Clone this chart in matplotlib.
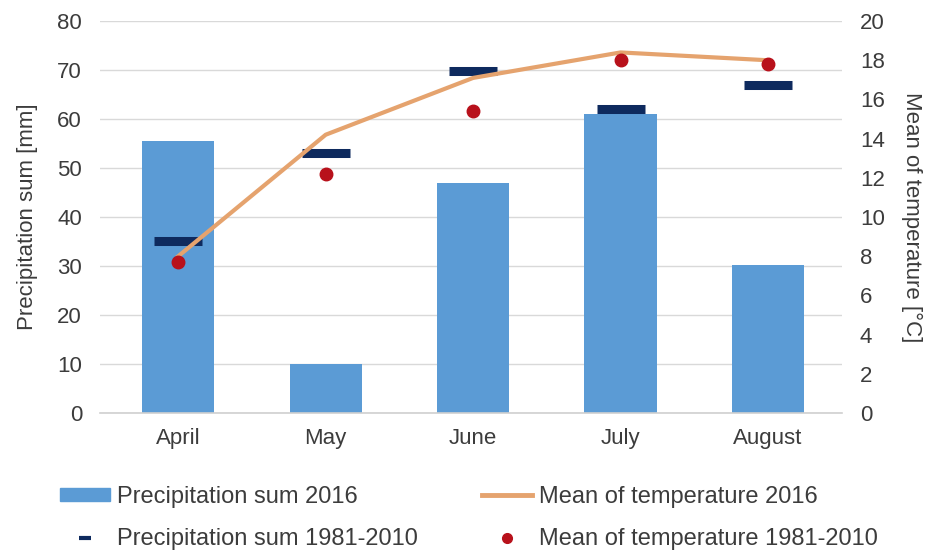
import numpy as np
import matplotlib.pyplot as plt
from matplotlib.lines import Line2D
from matplotlib.patches import Patch

plt.rcParams['font.family'] = ['Liberation Sans', 'DejaVu Sans']

months = ["April", "May", "June", "July", "August"]
precip_2016 = [55.6, 9.9, 47.0, 61.0, 30.2]
precip_norm = [35.1, 53.0, 69.8, 62.0, 66.9]
temp_2016 = [8.0, 14.2, 17.1, 18.4, 18.0]
temp_norm = [7.7, 12.2, 15.4, 18.0, 17.8]

txt = '#3c3c3c'
bar_col = '#5b9bd5'
dash_col = '#0e2a5e'
line_col = '#e5a36e'
dot_col = '#b8111b'
x = np.arange(len(months))

fig = plt.figure(figsize=(9.27, 5.55), dpi=100)
ax = fig.add_axes([0.108, 0.256, 0.8, 0.706])
ax2 = ax.twinx()

ax.bar(x, precip_2016, width=0.49, color=bar_col, zorder=2)
ax.plot(x, precip_norm, ls='none', marker='_', markersize=35, markeredgewidth=6.5,
        color=dash_col, zorder=4)
ax2.plot(x, temp_2016, color=line_col, lw=3, zorder=3)
ax2.plot(x, temp_norm, ls='none', marker='o', markersize=9, color=dot_col, zorder=5)

ax.set_ylim(0, 80)
ax.set_yticks(range(0, 81, 10))
ax2.set_ylim(0, 20)
ax2.set_yticks(range(0, 21, 2))
ax.set_xlim(-0.53, 4.5)
ax.set_xticks(x)
ax.set_xticklabels(months)
ax.grid(axis='y', color='#d9d9d9', lw=1, zorder=0)
ax.axhline(0, color='#d0d0d0', lw=1.2, zorder=3, clip_on=False)
ax.set_axisbelow(True)

for a in (ax, ax2):
    for s in a.spines.values():
        s.set_visible(False)
    a.tick_params(length=0, labelsize=16, colors=txt)
ax.tick_params(axis='y', pad=13)
ax.tick_params(axis='x', pad=11)
ax2.tick_params(axis='y', pad=13)

ax.set_ylabel("Precipitation sum [mm]", fontsize=16, color=txt, labelpad=14)
ax2.set_ylabel("Mean of temperature [°C]", fontsize=16, color=txt, rotation=270, labelpad=27)

# temperature axis on top of the bars
ax2.set_zorder(ax.get_zorder() + 1)
ax2.patch.set_visible(False)

h_col1 = [Patch(color=bar_col),
          Line2D([], [], ls='none', marker='_', markersize=8, markeredgewidth=3, color=dash_col)]
h_col2 = [Line2D([], [], color=line_col, lw=3.5),
          Line2D([], [], ls='none', marker='o', markersize=7, color=dot_col)]
lab1 = ["Precipitation sum 2016", "Precipitation sum 1981-2010"]
lab2 = ["Mean of temperature 2016", "Mean of temperature 1981-2010"]

kw = dict(loc='upper left', frameon=False, fontsize=17, handlelength=2.1,
          handletextpad=0.3, labelspacing=0.85, borderpad=0, borderaxespad=0,
          labelcolor=txt, handleheight=0.5)
leg1 = fig.legend(h_col1, lab1, bbox_to_anchor=(60 / 927, 1 - 486 / 555), **kw)
leg2 = fig.legend(h_col2, lab2, bbox_to_anchor=(482 / 927, 1 - 486 / 555), **kw)

plt.savefig('out.png', dpi=100)
